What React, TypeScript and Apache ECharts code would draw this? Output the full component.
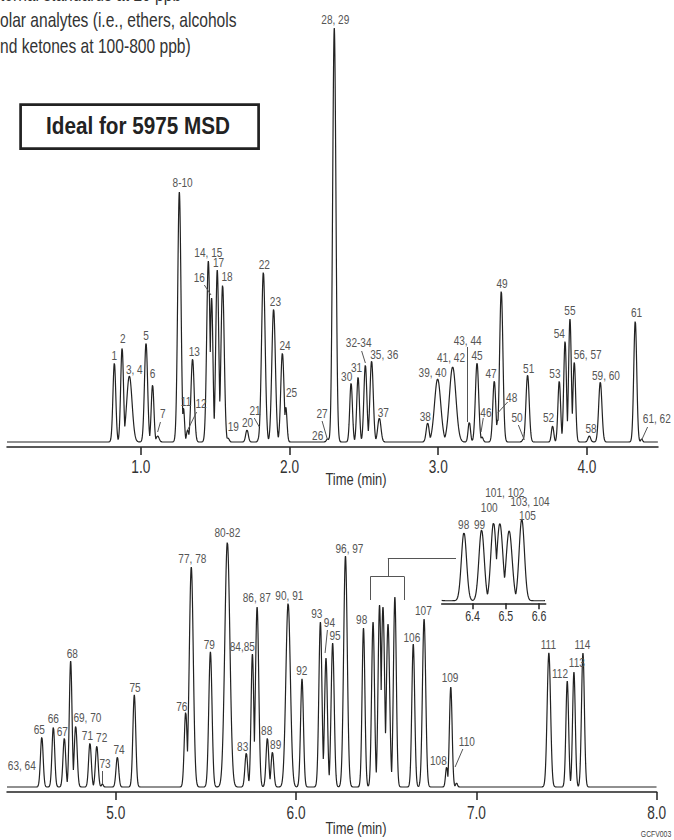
import React, { useEffect, useRef } from "react";
import * as echarts from "echarts";

const FONT = "'Liberation Sans', Arial, Helvetica, sans-serif";

// ---------- Top chromatogram (peaks 1-62), relative abundance ----------
const topPeakTimes = [0.822, 0.874, 0.923, 1.035, 1.079, 1.113, 1.259, 1.287, 1.315, 1.348, 1.454, 1.476, 1.514, 1.55, 1.586, 1.714, 1.797, 1.824, 1.893, 1.952, 1.975, 2.256, 2.27, 2.301, 2.414, 2.461, 2.51, 2.552, 2.604, 2.929, 2.996, 3.097, 3.209, 3.261, 3.294, 3.377, 3.4, 3.424, 3.574, 3.601, 3.769, 3.814, 3.853, 3.886, 3.915, 4.016, 4.09, 4.325, 4.368];
const topPeakHeights = [79, 94, 66, 99, 57, 6, 250, 34, 12, 83, 181, 144, 172, 157, 4, 12, 6, 170, 133, 89, 35, 3, 5, 414, 59, 65, 77, 81, 24, 19, 63, 75, 20, 79, 5, 61, 22, 151, 3, 67, 16, 61, 101, 123, 80, 6, 60, 121, 3];
const topPeakWidths = [0.0095, 0.0095, 0.018, 0.0105, 0.009, 0.01, 0.011, 0.007, 0.008, 0.011, 0.011, 0.009, 0.01, 0.011, 0.008, 0.009, 0.007, 0.012, 0.012, 0.011, 0.008, 0.008, 0.006, 0.011, 0.009, 0.009, 0.01, 0.011, 0.011, 0.01, 0.021, 0.022, 0.008, 0.011, 0.008, 0.01, 0.008, 0.011, 0.008, 0.011, 0.008, 0.009, 0.009, 0.009, 0.009, 0.009, 0.011, 0.01, 0.006];

const topLabels: [string, number, number][] = [
  ["1", 0.822, 86], ["2", 0.878, 103], ["3, 4", 0.956, 72], ["5", 1.035, 106], ["6", 1.079, 68],
  ["7", 1.147, 28], ["8-10", 1.281, 259], ["11", 1.304, 40], ["12", 1.405, 38], ["13", 1.36, 90],
  ["14, 15", 1.454, 189], ["16", 1.393, 164], ["17", 1.523, 179], ["18", 1.58, 165], ["19", 1.622, 15],
  ["20", 1.718, 19], ["21", 1.768, 31], ["22", 1.83, 177], ["23", 1.905, 140], ["24", 1.97, 96],
  ["25", 2.014, 49], ["26", 2.189, 6], ["27", 2.219, 28], ["28, 29", 2.308, 422], ["30", 2.384, 65],
  ["31", 2.451, 74], ["32-34", 2.465, 99], ["35, 36", 2.637, 87], ["37", 2.631, 29], ["38", 2.913, 25],
  ["39, 40", 2.962, 69], ["41, 42", 3.086, 84], ["43, 44", 3.198, 101], ["45", 3.261, 86], ["46", 3.321, 29],
  ["47", 3.355, 68], ["48", 3.494, 44], ["49", 3.429, 158], ["50", 3.53, 24], ["51", 3.608, 73],
  ["52", 3.742, 24], ["53", 3.785, 68], ["54", 3.814, 108], ["55", 3.886, 131], ["56, 57", 4.005, 87],
  ["58", 4.028, 13], ["59, 60", 4.128, 66], ["61", 4.334, 129], ["61, 62", 4.47, 23],
];
const topLeaders: [number, number, number, number][] = [
  [1.132, 20, 1.113, 10], [1.375, 30, 1.315, 12], [1.427, 157, 1.472, 147], [1.763, 24, 1.797, 15],
  [2.219, 21, 2.256, 2], [2.485, 91, 2.51, 79], [3.198, 95, 3.198, 20], [3.303, 24, 3.288, 10],
  [3.467, 40, 3.4, 29], [3.539, 17, 3.579, 2], [4.408, 15, 4.368, 2],
];
const topTicks = [1, 2, 3, 4];

// ---------- Bottom chromatogram (peaks 63-114) ----------
const botPeakTimes = [4.59, 4.654, 4.715, 4.75, 4.778, 4.857, 4.895, 4.926, 5.009, 5.103, 5.388, 5.419, 5.525, 5.619, 5.724, 5.758, 5.784, 5.841, 5.869, 5.956, 6.033, 6.135, 6.166, 6.203, 6.274, 6.374, 6.427, 6.463, 6.482, 6.51, 6.548, 6.65, 6.71, 6.835, 6.858, 6.89, 7.402, 7.504, 7.541, 7.591];
const botPeakHeights = [50, 60, 49, 126, 61, 44, 41, 3, 30, 92, 75, 220, 135, 245, 34, 133, 180, 49, 35, 184, 108, 165, 129, 144, 231, 159, 165, 182, 180, 163, 190, 143, 168, 20, 100, 4, 134, 106, 115, 134];
const botPeakWidths = [0.0075, 0.0075, 0.0075, 0.0075, 0.008, 0.0075, 0.0075, 0.005, 0.0075, 0.008, 0.008, 0.011, 0.009, 0.014, 0.0075, 0.0075, 0.009, 0.0075, 0.0075, 0.0125, 0.008, 0.0085, 0.008, 0.0085, 0.01, 0.0078, 0.008, 0.008, 0.009, 0.009, 0.008, 0.008, 0.009, 0.006, 0.0075, 0.005, 0.0095, 0.0075, 0.0075, 0.008];

const botLabels: [string, number, number][] = [
  ["63, 64", 4.479, 21], ["65", 4.576, 57], ["66", 4.654, 68], ["67", 4.704, 55], ["68", 4.759, 133],
  ["69, 70", 4.843, 69], ["71", 4.843, 51], ["72", 4.922, 49], ["73", 4.941, 23], ["74", 5.018, 37],
  ["75", 5.107, 99], ["76", 5.366, 80], ["77, 78", 5.425, 228], ["79", 5.519, 142], ["80-82", 5.619, 254],
  ["83", 5.704, 40], ["84,85", 5.702, 140], ["86, 87", 5.782, 189], ["88", 5.837, 56], ["89", 5.887, 42],
  ["90, 91", 5.963, 191], ["92", 6.032, 116], ["93", 6.115, 173], ["94", 6.185, 164], ["95", 6.216, 151],
  ["96, 97", 6.296, 238], ["98", 6.364, 167], ["106", 6.642, 149], ["107", 6.706, 176], ["108", 6.789, 26],
  ["109", 6.854, 109], ["110", 6.947, 45], ["111", 7.399, 142], ["112", 7.464, 113], ["113", 7.557, 124],
  ["114", 7.588, 142],
];
const botLeaders: [number, number, number, number][] = [
  [4.926, 16, 4.926, 3], [6.174, 157, 6.161, 134], [6.925, 38, 6.882, 20],
  // bracket pointing to the inset
  [6.412, 210.3, 6.601, 210.3], [6.412, 210.3, 6.412, 187], [6.601, 210.3, 6.601, 187],
  [6.509, 210.3, 6.509, 228.3], [6.509, 228.3, 6.887, 228.3],
];
const botTicks = [5, 6, 7, 8];

// ---------- Inset (peaks 98-105) ----------
const insetLabels: [string, number, number][] = [
  ["98", 6.373, 177], ["99", 6.421, 177], ["100", 6.45, 216], ["101, 102", 6.497, 252],
  ["103, 104", 6.573, 231], ["105", 6.565, 199],
];
const insetLeaders: [number, number, number, number][] = [
  [6.457, 200, 6.467, 188], [6.479, 231, 6.479, 184], [6.519, 216, 6.509, 181],
];
const insetTicks = [6.4, 6.5, 6.6];

function buildTrace(times: number[], heights: number[], widths: number[], t0: number, t1: number, step: number) {
  const out: [number, number][] = [];
  const n = Math.round((t1 - t0) / step);
  for (let i = 0; i <= n; i++) {
    const t = t0 + i * step;
    let v = 0;
    for (let k = 0; k < times.length; k++) {
      const d = (t - times[k]) / widths[k];
      if (Math.abs(d) < 6) {
        const g = heights[k] * Math.exp(-0.5 * d * d);
        if (g > v) v = g;
      }
    }
    out.push([+t.toFixed(4), v]);
  }
  return out;
}

// Peak labels drawn as condensed text at data coordinates, plus leader lines
function labelSeries(labels: [string, number, number][], leaders: [number, number, number, number][], idx: number) {
  return {
    type: "custom",
    xAxisIndex: idx,
    yAxisIndex: idx,
    clip: false,
    silent: true,
    z: 5,
    data: labels.map(([, t, h]) => [t, h]),
    encode: { x: 0, y: 1 },
    renderItem: (params: any, api: any) => {
      const p = api.coord([api.value(0), api.value(1)]);
      return {
        type: "text",
        x: p[0],
        y: p[1],
        scaleX: 0.84,
        style: {
          text: labels[params.dataIndex][0],
          fontSize: 12,
          fontFamily: FONT,
          fill: "#555",
          align: "center",
          verticalAlign: "middle",
        },
      };
    },
    markLine: {
      silent: true,
      symbol: ["none", "none"],
      label: { show: false },
      lineStyle: { color: "#555", width: 1, type: "solid" },
      emphasis: { disabled: true },
      data: leaders.map(([a, b, c, d]) => [{ coord: [a, b] }, { coord: [c, d] }]),
    },
  };
}

// Tick labels in a condensed face, placed below the axis line at each tick value
function tickLabelSeries(ticks: number[], idx: number, yMin: number, dy: number, fontSize: number) {
  return {
    type: "custom",
    xAxisIndex: idx,
    yAxisIndex: idx,
    clip: false,
    silent: true,
    data: ticks.map((t) => [t, yMin]),
    encode: { x: 0, y: 1 },
    renderItem: (params: any, api: any) => {
      const p = api.coord([api.value(0), api.value(1)]);
      return {
        type: "text",
        x: p[0],
        y: p[1] + dy,
        scaleX: 0.76,
        style: {
          text: ticks[params.dataIndex].toFixed(1),
          fontSize,
          fontFamily: FONT,
          fill: "#333",
          align: "center",
          verticalAlign: "middle",
        },
      };
    },
  };
}

function xAxisDef(idx: number, min: number, max: number, ticks: number[], tickLen: number) {
  return {
    type: "value",
    gridIndex: idx,
    min,
    max,
    axisLine: { show: true, onZero: false, lineStyle: { color: "#222", width: 1.5 } },
    axisTick: { show: true, customValues: ticks, length: tickLen, lineStyle: { color: "#222", width: 1.5 } },
    axisLabel: { show: false },
    splitLine: { show: false },
  };
}

function textEl(text: string, x: number, y: number, fontSize: number, scaleX: number, extra: any = {}) {
  return {
    type: "text",
    x,
    y,
    scaleX,
    style: { text, fontSize, fontFamily: FONT, fill: "#333", verticalAlign: "middle", ...extra },
  };
}

export default function App() {
  const ref = useRef<HTMLDivElement>(null);
  useEffect(() => {
    if (!ref.current) return;
    const chart = echarts.init(ref.current, null, { renderer: "svg" });
    const topTrace = buildTrace(topPeakTimes, topPeakHeights, topPeakWidths, 0.1, 4.478, 0.001);
    const botTrace = buildTrace(botPeakTimes, botPeakHeights, botPeakWidths, 4.397, 8.0, 0.001);
    const insetTrace = buildTrace(botPeakTimes, botPeakHeights, botPeakWidths, 6.307, 6.62, 0.0005);
    const lineStyle = { color: "#222", width: 1.2 };
    chart.setOption({
      animation: false,
      backgroundColor: "#fff",
      grid: [
        { left: 7, top: 28, width: 651, height: 419 },
        { left: 7, top: 537, width: 649.7, height: 255 },
        { left: 441.7, top: 519.3, width: 104, height: 84 },
      ],
      xAxis: [
        xAxisDef(0, 0.1, 4.478, topTicks, 8),
        xAxisDef(1, 4.397, 8.0, botTicks, 8),
        xAxisDef(2, 6.307, 6.62, insetTicks, 6),
      ],
      yAxis: [
        { type: "value", gridIndex: 0, min: -5, max: 414, show: false },
        { type: "value", gridIndex: 1, min: -5, max: 250, show: false },
        { type: "value", gridIndex: 2, min: -6, max: 190, show: false },
      ],
      series: [
        { type: "line", xAxisIndex: 0, yAxisIndex: 0, data: topTrace, showSymbol: false, symbol: "none", lineStyle, silent: true },
        { type: "line", xAxisIndex: 1, yAxisIndex: 1, data: botTrace, showSymbol: false, symbol: "none", lineStyle, silent: true },
        { type: "line", xAxisIndex: 2, yAxisIndex: 2, data: insetTrace, showSymbol: false, symbol: "none", lineStyle, silent: true },
        labelSeries(topLabels, topLeaders, 0),
        labelSeries(botLabels, botLeaders, 1),
        labelSeries(insetLabels, insetLeaders, 2),
        tickLabelSeries(topTicks, 0, -5, 20, 18),
        tickLabelSeries(botTicks, 1, -5, 21, 18),
        tickLabelSeries(insetTicks, 2, -6, 13.5, 14),
      ],
      graphic: [
        textEl("ternal standards at 20 ppb", 0, -5.5, 20, 0.78),
        textEl("olar analytes (i.e., ethers, alcohols", 0, 20.3, 20, 0.78),
        textEl("nd ketones at 100-800 ppb)", 0, 46.3, 20, 0.78),
        { type: "rect", shape: { x: 20.6, y: 104.6, width: 238, height: 44 }, style: { fill: "#fff", stroke: "#222", lineWidth: 2.7 } },
        textEl("Ideal for 5975 MSD", 138, 126.5, 23, 0.9, { fontWeight: "bold", fill: "#222", align: "center" }),
        textEl("Time (min)", 356, 479, 17, 0.76, { align: "center" }),
        textEl("Time (min)", 356, 828, 17, 0.76, { align: "center" }),
        textEl("GCFV003", 656, 834, 9, 0.76, { align: "center", fill: "#444" }),
      ],
    });
    return () => chart.dispose();
  }, []);
  return <div ref={ref} style={{ position: "absolute", left: 0, top: 0, width: 674, height: 840, background: "#fff" }} />;
}
